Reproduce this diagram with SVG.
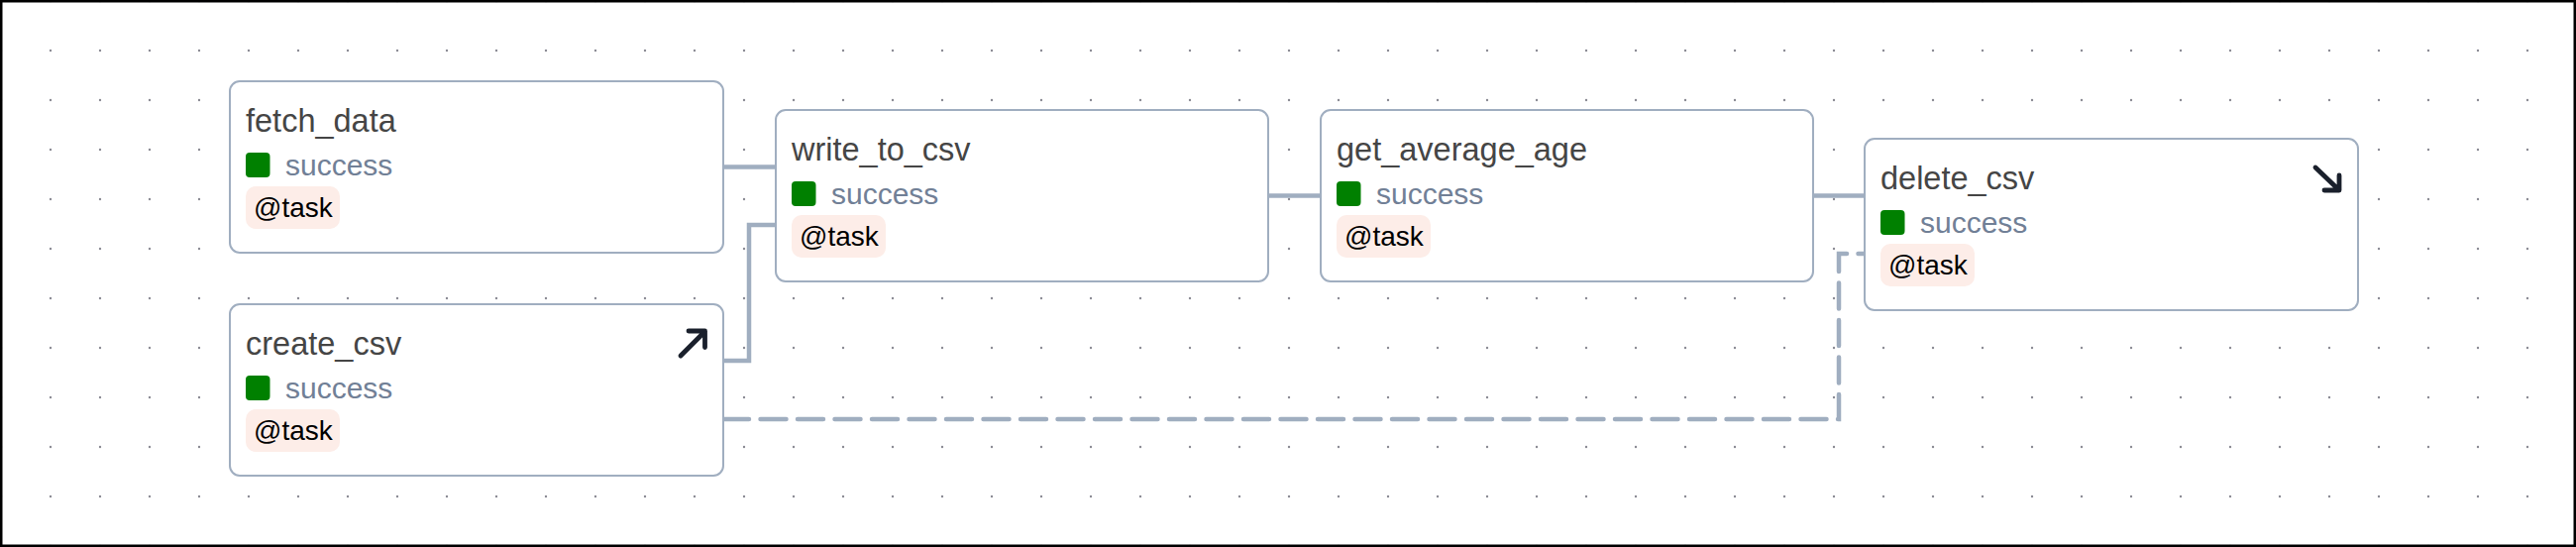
<svg xmlns="http://www.w3.org/2000/svg" width="2600" height="552" viewBox="0 0 2600 552">
<style>
.box{fill:#ffffff;stroke:#a0aec0;stroke-width:2}
.title{font-family:"Liberation Sans",Arial,sans-serif;font-size:32.5px;fill:#454545}
.sq{fill:#008000}
.state{font-family:"Liberation Sans",Arial,sans-serif;font-size:30px;fill:#718096}
.badge{fill:#fdede8}
.op{font-family:"Liberation Sans",Arial,sans-serif;font-size:28px;fill:#000000}
.edge{fill:none;stroke:#a0aec0;stroke-width:4.5}
.dashed{stroke-dasharray:26 11.5;stroke-linecap:round}
.icon{fill:none;stroke:#1a202c;stroke-width:4.8;stroke-linecap:round;stroke-linejoin:round}
</style>
<defs>
<pattern id="dots" x="-24" y="-24" width="50" height="50" patternUnits="userSpaceOnUse">
<circle cx="25" cy="25" r="1.2" fill="#8a8a94"/>
</pattern>
</defs>
<rect x="0" y="0" width="2600" height="552" fill="#ffffff"/>
<rect x="0" y="0" width="2600" height="552" fill="url(#dots)"/>
<g id="connectors">
<path class="edge" d="M730,168.5 H783"/>
<path class="edge" d="M730,364 H756 V227 H783"/>
<path class="edge" d="M1280,197.5 H1333"/>
<path class="edge" d="M1830,197.5 H1882"/>
<path class="edge dashed" d="M730,423 H1856 V256 H1882"/>
</g>
<g id="fetch_data" transform="translate(232,82)">
<rect class="box" x="0" y="0" width="498" height="173" rx="10"/>
<text class="title" x="16" y="50.5">fetch_data</text>
<rect class="sq" x="16" y="72" width="24.5" height="25" rx="4"/>
<text class="state" x="56" y="94.5">success</text>
<rect class="badge" x="16" y="106" width="95" height="43" rx="10"/>
<text class="op" x="24" y="137">@task</text>
</g>
<g id="create_csv" transform="translate(232,307)">
<rect class="box" x="0" y="0" width="498" height="173" rx="10"/>
<text class="title" x="16" y="50.5">create_csv</text>
<rect class="sq" x="16" y="72" width="24.5" height="25" rx="4"/>
<text class="state" x="56" y="94.5">success</text>
<rect class="badge" x="16" y="106" width="95" height="43" rx="10"/>
<text class="op" x="24" y="137">@task</text>
<path class="icon" d="M455,52 L479.5,27.5 M463,27 H479.5 V43.5"/>
</g>
<g id="write_to_csv" transform="translate(783,111)">
<rect class="box" x="0" y="0" width="497" height="173" rx="10"/>
<text class="title" x="16" y="50.5">write_to_csv</text>
<rect class="sq" x="16" y="72" width="24.5" height="25" rx="4"/>
<text class="state" x="56" y="94.5">success</text>
<rect class="badge" x="16" y="106" width="95" height="43" rx="10"/>
<text class="op" x="24" y="137">@task</text>
</g>
<g id="get_average_age" transform="translate(1333,111)">
<rect class="box" x="0" y="0" width="497" height="173" rx="10"/>
<text class="title" x="16" y="50.5">get_average_age</text>
<rect class="sq" x="16" y="72" width="24.5" height="25" rx="4"/>
<text class="state" x="56" y="94.5">success</text>
<rect class="badge" x="16" y="106" width="95" height="43" rx="10"/>
<text class="op" x="24" y="137">@task</text>
</g>
<g id="delete_csv" transform="translate(1882,140)">
<rect class="box" x="0" y="0" width="498" height="173" rx="10"/>
<text class="title" x="16" y="50.5">delete_csv</text>
<rect class="sq" x="16" y="72" width="24.5" height="25" rx="4"/>
<text class="state" x="56" y="94.5">success</text>
<rect class="badge" x="16" y="106" width="95" height="43" rx="10"/>
<text class="op" x="24" y="137">@task</text>
<path class="icon" d="M455,29 L477.5,50.5 M479,37 V52 H464"/>
</g>
<rect x="1.25" y="1.25" width="2597.5" height="549.5" fill="none" stroke="#000000" stroke-width="2.5"/>
</svg>
